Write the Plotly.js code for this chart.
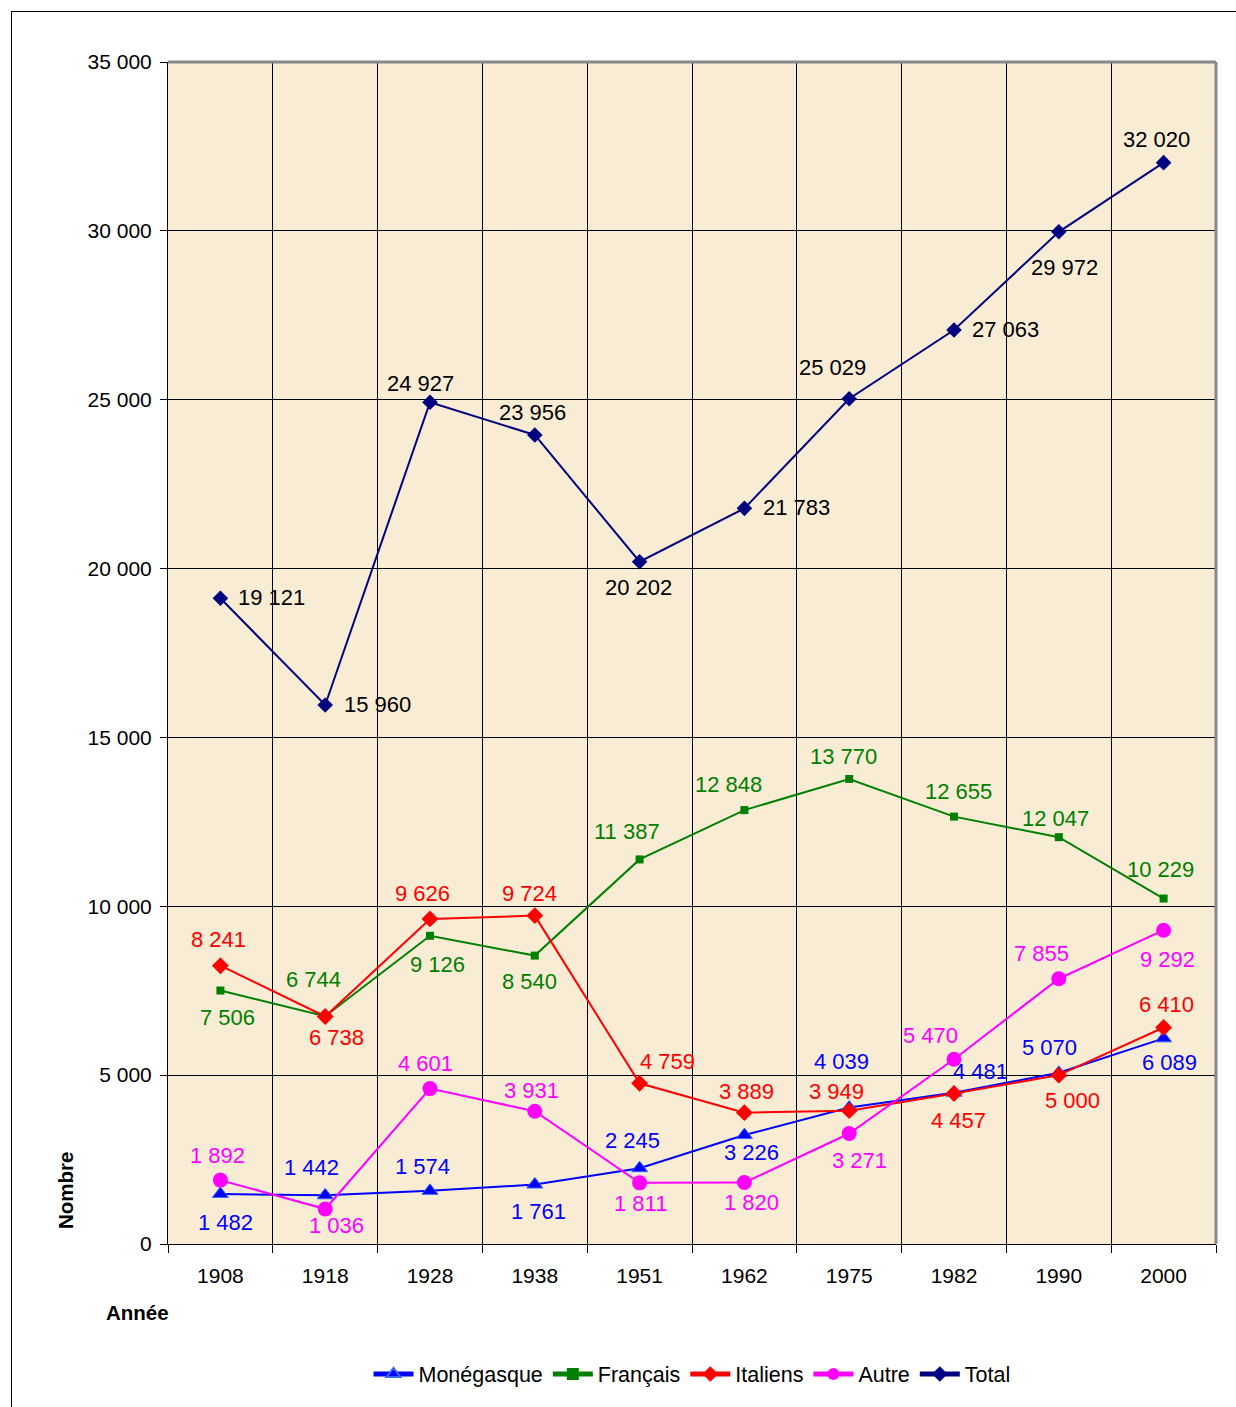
<!DOCTYPE html>
<html>
<head>
<meta charset="utf-8">
<script src="https://cdn.plot.ly/plotly-3.0.1.min.js"></script>
<style>
  html, body { margin: 0; padding: 0; background: #fff; }
  #wrap { position: relative; width: 1236px; height: 1407px; }
  #chart { position: absolute; left: 0; top: 0; width: 1236px; height: 1407px; }
  #frame { position: absolute; left: 11px; top: 11px; width: 1240px; height: 1410px;
           border-left: 1px solid #000; border-top: 1px solid #000; pointer-events: none; }
</style>
</head>
<body>
<div id="wrap">
  <div id="chart"></div>
  <div id="frame"></div>
</div>
<script>
const years = ['1908', '1918', '1928', '1938', '1951', '1962', '1975', '1982', '1990', '2000'];
const monegasque = [1482, 1442, 1574, 1761, 2245, 3226, 4039, 4481, 5070, 6089];
const francais   = [7506, 6744, 9126, 8540, 11387, 12848, 13770, 12655, 12047, 10229];
const italiens   = [8241, 6738, 9626, 9724, 4759, 3889, 3949, 4457, 5000, 6410];
const autre      = [1892, 1036, 4601, 3931, 1811, 1820, 3271, 5470, 7855, 9292];
const total      = [19121, 15960, 24927, 23956, 20202, 21783, 25029, 27063, 29972, 32020];
const yTicks = [0, 5000, 10000, 15000, 20000, 25000, 30000, 35000];

// label offsets in pixels (dx right, dy down) from each point, as placed in the original
const offMon = [[5,29],[-14,-28],[-8,-24],[4,27],[-7,-28],[7,17],[-8,-46],[26,-21],[-9,-25],[6,24]];
const offFra = [[7,27],[-12,-37],[7,29],[-5,26],[-13,-28],[-16,-26],[-6,-22],[4,-25],[-3,-19],[-3,-29]];
const offIta = [[-2,-26],[11,21],[-8,-25],[-5,-22],[28,-22],[2,-21],[-13,-19],[4,27],[14,25],[3,-23]];
const offAut = [[-3,-25],[11,16],[-5,-25],[-3,-21],[1,21],[7,20],[10,27],[-24,-24],[-17,-25],[4,29]];
const offTot = [[51,-1],[52,-1],[-10,-19],[-2,-22],[-1,26],[52,-1],[-17,-31],[51,-1],[6,36],[-7,-23]];

const FONT = 'Liberation Sans, Arial, sans-serif';

function fmt(v) {
  return String(v).replace(/\B(?=(\d{3})+(?!\d))/g, ' ');
}

function series(name, y, color, symbol, msize, mline) {
  return {
    type: 'scatter', mode: 'lines+markers', name: name,
    x: years, y: y,
    line: { color: color, width: 2 },
    marker: { symbol: symbol, size: msize, color: color, line: mline || { width: 0 } },
    cliponaxis: false
  };
}

const traces = [
  series('Monégasque', monegasque, '#0000FF', 'triangle-up', 14, { color: '#3366FF', width: 1 }),
  series('Français', francais, '#008000', 'square', 8),
  series('Italiens', italiens, '#FF0000', 'diamond', 13),
  series('Autre', autre, '#FF00FF', 'circle', 15),
  series('Total', total, '#000080', 'diamond', 12)
];

function labels(y, offs, color) {
  return y.map((v, i) => ({
    x: i, y: v, xref: 'x', yref: 'y',
    text: fmt(v), showarrow: false,
    xanchor: 'center', yanchor: 'middle',
    xshift: offs[i][0], yshift: -offs[i][1],
    font: { family: FONT, size: 22, color: color }
  }));
}

const dataLabels = [].concat(
  labels(monegasque, offMon, '#0000FF'),
  labels(francais, offFra, '#008000'),
  labels(italiens, offIta, '#FF0000'),
  labels(autre, offAut, '#FF00FF'),
  labels(total, offTot, '#000000')
);

const layout = {
  width: 1236, height: 1407,
  margin: { l: 168, r: 20, t: 62, b: 163 },
  paper_bgcolor: '#FFFFFF',
  plot_bgcolor: '#F9ECD5',
  separators: ', ',
  font: { family: FONT, size: 21, color: '#000' },
  showlegend: true,
  legend: {
    orientation: 'h', x: 0.5, xanchor: 'center', xref: 'paper',
    y: -0.11, yanchor: 'middle',
    font: { family: FONT, size: 21.5, color: '#000' },
    itemwidth: 40, tracegroupgap: 0, itemsizing: 'constant'
  },
  xaxis: {
    type: 'category',
    range: [-0.5, 9.5],
    tickson: 'boundaries',
    showgrid: true, gridcolor: '#000', gridwidth: 1,
    showline: true, linecolor: '#000', linewidth: 1,
    ticks: 'outside', ticklen: 8, tickcolor: '#000',
    ticklabelstandoff: 13,
    tickfont: { family: FONT, size: 21, color: '#000' },
    zeroline: false, fixedrange: true
  },
  yaxis: {
    range: [0, 35000],
    tickvals: yTicks,
    tickformat: ',d',
    showgrid: true, gridcolor: '#000', gridwidth: 1,
    showline: true, linecolor: '#000', linewidth: 1,
    ticks: 'outside', ticklen: 7, tickcolor: '#000',
    ticklabelstandoff: 4,
    tickfont: { family: FONT, size: 21, color: '#000' },
    zeroline: false, fixedrange: true
  },
  shapes: [
    { type: 'line', xref: 'paper', yref: 'paper', x0: 0, x1: 1, y0: 1, y1: 1,
      line: { color: '#888', width: 3 }, layer: 'above' },
    { type: 'line', xref: 'paper', yref: 'paper', x0: 1, x1: 1, y0: 0, y1: 1,
      line: { color: '#888', width: 3 }, layer: 'above' }
  ],
  annotations: [
    { text: '<b>Nombre</b>', xref: 'paper', yref: 'paper',
      x: (65 - 168) / 1048, y: (1244 - 1191) / 1182, textangle: -90,
      xanchor: 'center', yanchor: 'middle',
      showarrow: false, font: { family: FONT, size: 20.5, color: '#000' } },
    { text: '<b>Année</b>', xref: 'paper', yref: 'paper',
      x: (137 - 168) / 1048, y: (1244 - 1313) / 1182,
      xanchor: 'center', yanchor: 'middle',
      showarrow: false, font: { family: FONT, size: 20.5, color: '#000' } }
  ].concat(dataLabels)
};

Plotly.newPlot('chart', traces, layout, { displayModeBar: false, staticPlot: true });
</script>
</body>
</html>
